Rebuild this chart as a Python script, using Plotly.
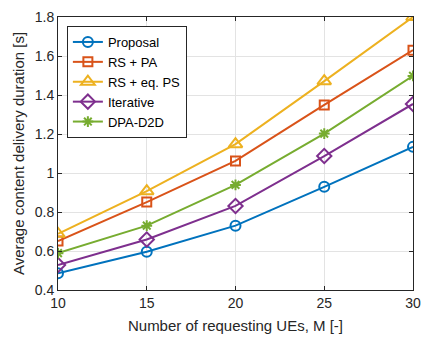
import plotly.graph_objects as go

x_users = [10, 15, 20, 25, 30]
proposal = [0.486, 0.596, 0.730, 0.929, 1.134]
rs_pa = [0.651, 0.851, 1.062, 1.349, 1.630]
rs_eq_ps = [0.688, 0.907, 1.148, 1.471, 1.800]
iterative = [0.528, 0.659, 0.831, 1.087, 1.354]
dpa_d2d = [0.589, 0.730, 0.939, 1.202, 1.498]

series_names = ["Proposal", "RS + PA", "RS + eq. PS", "Iterative", "DPA-D2D"]
series_values = [proposal, rs_pa, rs_eq_ps, iterative, dpa_d2d]
colors = ["#0072BD", "#D95319", "#EDB120", "#7E2F8E", "#77AC30"]
symbols = ["circle-open", "square-open", "triangle-up-open", "diamond-open", "asterisk-open"]
sizes = [10, 9, 12, 11, 9]

fig = go.Figure()
for name, vals, c, s, sz in zip(series_names, series_values, colors, symbols, sizes):
    fig.add_trace(go.Scatter(
        x=x_users, y=vals, name=name, mode="lines+markers",
        line=dict(color=c, width=2),
        marker=dict(symbol=s, size=sz, color=c, line=dict(color=c, width=2)),
    ))

axis_common = dict(
    showgrid=True, gridcolor="#e3e3e3", gridwidth=1,
    showline=True, linecolor="#262626", linewidth=1, mirror="ticks",
    ticks="inside", ticklen=4, tickcolor="#262626",
    tickfont=dict(family="Liberation Sans, Arial", size=14, color="#262626"),
    zeroline=False,
)

fig.update_layout(
    width=430, height=340,
    margin=dict(l=58, r=9, t=15, b=48),
    paper_bgcolor="white", plot_bgcolor="white",
    font=dict(family="Liberation Sans, Arial", color="#262626"),
    xaxis=dict(range=[10, 30], tickvals=[10, 15, 20, 25, 30],
               title=dict(text="Number of requesting UEs, M [-]", font=dict(size=15), standoff=10),
               **axis_common),
    yaxis=dict(range=[0.4, 1.8], tickvals=[0.4, 0.6, 0.8, 1.0, 1.2, 1.4, 1.6, 1.8],
               ticktext=["0.4", "0.6", "0.8", "1", "1.2", "1.4", "1.6", "1.8"],
               title=dict(text="Average content delivery duration [s]", font=dict(size=15), standoff=6),
               **axis_common),
    legend=dict(x=0.025, y=0.967, xanchor="left", yanchor="top",
                bgcolor="white", bordercolor="#262626", borderwidth=1,
                font=dict(size=13, color="#000000"), tracegroupgap=0,
                itemwidth=30),
    showlegend=True,
)

fig.write_html("out.html")
